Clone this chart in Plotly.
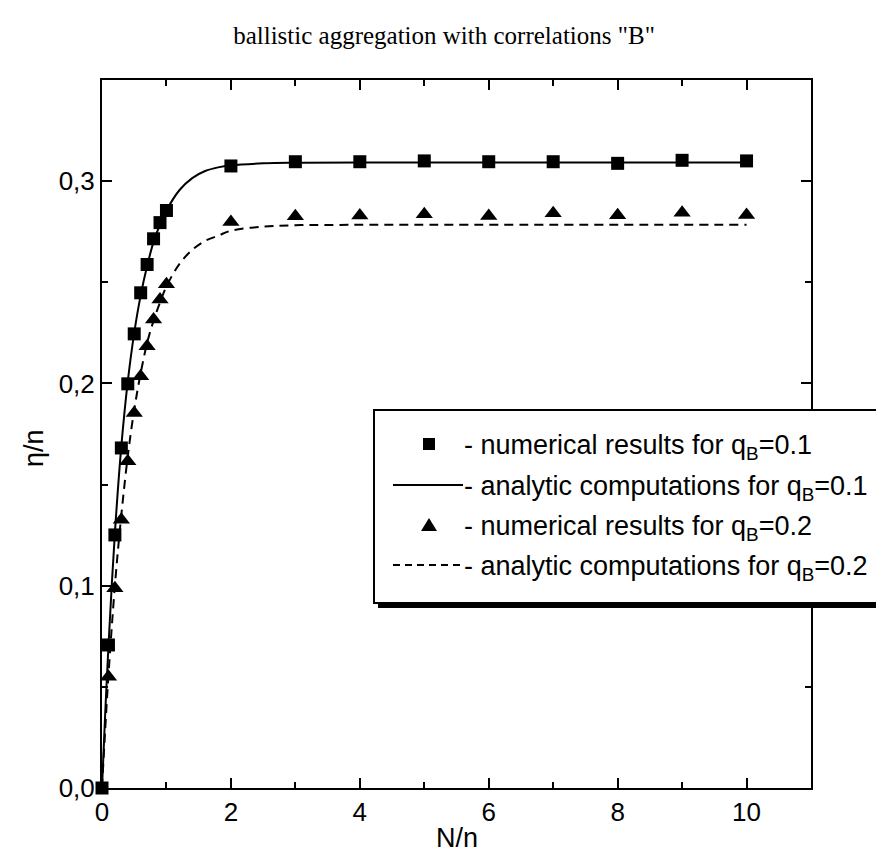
import plotly.graph_objects as go

# ---------------- data ----------------
sq_x = [0, 0.1, 0.2, 0.3, 0.4, 0.5, 0.6, 0.7, 0.8, 0.9, 1.0, 2, 3, 4, 5, 6, 7, 8, 9, 10]
sq_y = [0.0, 0.0707, 0.1251, 0.1681, 0.1998, 0.2245, 0.2448, 0.2588, 0.2715, 0.2795,
        0.2855, 0.3075, 0.3096, 0.3096, 0.3100, 0.3096, 0.3096, 0.3088, 0.3103, 0.3100]

tri_x = [0.1, 0.2, 0.3, 0.4, 0.5, 0.6, 0.7, 0.8, 0.9, 1.0, 2, 3, 4, 5, 6, 7, 8, 9, 10]
tri_y = [0.0550, 0.0988, 0.1326, 0.1615, 0.1854, 0.2036, 0.2184, 0.2316, 0.2415, 0.2490,
         0.2798, 0.2826, 0.2830, 0.2836, 0.2828, 0.2841, 0.2831, 0.2844, 0.2833]

an1_x = [0, 0.05, 0.1, 0.2, 0.3, 0.4, 0.5, 0.6, 0.7, 0.8, 0.9, 1.0, 1.2, 1.4, 1.6, 1.8, 2.0, 2.5, 3, 4, 10]
an1_y = [0.0, 0.037, 0.0700, 0.1260, 0.1690, 0.2010, 0.2250, 0.2435, 0.2580, 0.2700, 0.2785,
         0.2855, 0.2955, 0.3015, 0.3050, 0.3068, 0.3078, 0.3088, 0.3091, 0.3092, 0.3092]

an2_x = [0, 0.05, 0.1, 0.2, 0.3, 0.4, 0.5, 0.6, 0.7, 0.8, 0.9, 1.0, 1.2, 1.4, 1.6, 1.8, 2.0, 2.5, 3, 4, 10]
an2_y = [0.0, 0.029, 0.0556, 0.1000, 0.1350, 0.1640, 0.1870, 0.2050, 0.2200, 0.2310, 0.2400,
         0.2480, 0.2590, 0.2660, 0.2705, 0.2730, 0.2755, 0.2775, 0.2782, 0.2784, 0.2784]

x_tickvals = [0, 2, 4, 6, 8, 10]
x_ticktext = ["0", "2", "4", "6", "8", "10"]
y_tickvals = [0.0, 0.1, 0.2, 0.3]
y_ticktext = ["0,0", "0,1", "0,2", "0,3"]

title_text = 'ballistic aggregation with correlations "B"'
x_title = "N/n"
y_title = "η/n"
legend_texts = [
    "- numerical results for q<sub>B</sub>=0.1",
    "- analytic computations for q<sub>B</sub>=0.1",
    "- numerical results for q<sub>B</sub>=0.2",
    "- analytic computations for q<sub>B</sub>=0.2",
]

# ---------------- layout geometry ----------------
W, H = 884, 858
ML, MR, MT, MB = 94, 81, 72, 78
PW, PH = W - ML - MR, H - MT - MB


def px(xp):
    return (xp - ML) / PW


def py(yp):
    return (H - MB - yp) / PH


SANS = "Liberation Sans, Arial, sans-serif"
SERIF = "Liberation Serif, Times New Roman, serif"

fig = go.Figure()
fig.add_trace(go.Scatter(x=an1_x, y=an1_y, mode="lines", line=dict(color="black", width=2, shape="spline"),
                         showlegend=False, hoverinfo="skip"))
fig.add_trace(go.Scatter(x=an2_x, y=an2_y, mode="lines",
                         line=dict(color="black", width=2, dash="9px,6px", shape="spline"),
                         showlegend=False, hoverinfo="skip"))
fig.add_trace(go.Scatter(x=sq_x, y=sq_y, mode="markers", cliponaxis=False,
                         marker=dict(symbol="square", size=13, color="black"), showlegend=False))
fig.add_trace(go.Scatter(x=tri_x, y=tri_y, mode="markers", cliponaxis=False,
                         marker=dict(symbol="triangle-up", size=15, color="black"), showlegend=False))

axis_common = dict(showline=True, linecolor="black", linewidth=2, mirror="allticks",
                   ticks="inside", ticklen=10, tickwidth=2, tickcolor="black",
                   showgrid=False, zeroline=False,
                   tickfont=dict(family=SANS, size=26, color="black"))

fig.update_xaxes(range=[0, 11], tickvals=x_tickvals, ticktext=x_ticktext,
                 minor=dict(tickvals=[1, 3, 5, 7, 9, 11], ticklen=6, tickwidth=2, ticks="inside",
                            tickcolor="black"),
                 **axis_common)
fig.update_yaxes(range=[0, 0.35], tickvals=y_tickvals, ticktext=y_ticktext,
                 minor=dict(tickvals=[0.05, 0.15, 0.25, 0.35], ticklen=6, tickwidth=2, ticks="inside",
                            tickcolor="black"),
                 **axis_common)

shapes = []
# legend shadow + box
shapes.append(dict(type="rect", xref="paper", yref="paper", x0=px(370), x1=px(905), y0=py(600), y1=py(406),
                   fillcolor="black", line=dict(width=0), layer="above"))
shapes.append(dict(type="rect", xref="paper", yref="paper", x0=px(366), x1=px(900), y0=py(595), y1=py(402),
                   fillcolor="white", line=dict(color="black", width=2), layer="above"))
row_y = [436, 477, 517, 557]
sym_x = 421
# row 1 square
shapes.append(dict(type="rect", xref="paper", yref="paper", x0=px(sym_x - 6), x1=px(sym_x + 6),
                   y0=py(row_y[0] + 6), y1=py(row_y[0] - 6), fillcolor="black", line=dict(width=0),
                   layer="above"))
# row 2 solid line
shapes.append(dict(type="line", xref="paper", yref="paper", x0=px(385), x1=px(455), y0=py(row_y[1]),
                   y1=py(row_y[1]), line=dict(color="black", width=2), layer="above"))
# row 3 triangle
tx0, tx1, tx2 = px(sym_x - 8), px(sym_x + 8), px(sym_x)
ty0, ty1 = py(row_y[2] + 6), py(row_y[2] - 7)
shapes.append(dict(type="path", xref="paper", yref="paper",
                   path=f"M {tx0} {ty0} L {tx1} {ty0} L {tx2} {ty1} Z",
                   fillcolor="black", line=dict(width=0), layer="above"))
# row 4 dashed line
shapes.append(dict(type="line", xref="paper", yref="paper", x0=px(385), x1=px(455), y0=py(row_y[3]),
                   y1=py(row_y[3]), line=dict(color="black", width=2, dash="7px,5px"), layer="above"))

annotations = []
for txt, ry in zip(legend_texts, row_y):
    annotations.append(dict(text=txt, xref="paper", yref="paper", x=px(454), y=py(ry + 3),
                            xanchor="left", yanchor="middle", showarrow=False,
                            font=dict(family=SANS, size=27, color="black")))
annotations.append(dict(text=x_title, xref="paper", yref="paper", x=px(449), y=py(830),
                        xanchor="center", yanchor="middle", showarrow=False,
                        font=dict(family=SANS, size=27, color="black")))
annotations.append(dict(text=y_title, xref="paper", yref="paper", x=px(26), y=py(440),
                        xanchor="center", yanchor="middle", showarrow=False, textangle=-90,
                        font=dict(family=SANS, size=27, color="black")))

fig.update_layout(
    width=W, height=H,
    margin=dict(l=ML, r=MR, t=MT, b=MB),
    paper_bgcolor="white", plot_bgcolor="white",
    title=dict(text=title_text, x=436 / W, xanchor="center", y=1 - 27 / H, yanchor="middle",
               xref="container", yref="container",
               font=dict(family=SERIF, size=25, color="black")),
    shapes=shapes, annotations=annotations,
    showlegend=False,
)

fig.write_html("out.html")
